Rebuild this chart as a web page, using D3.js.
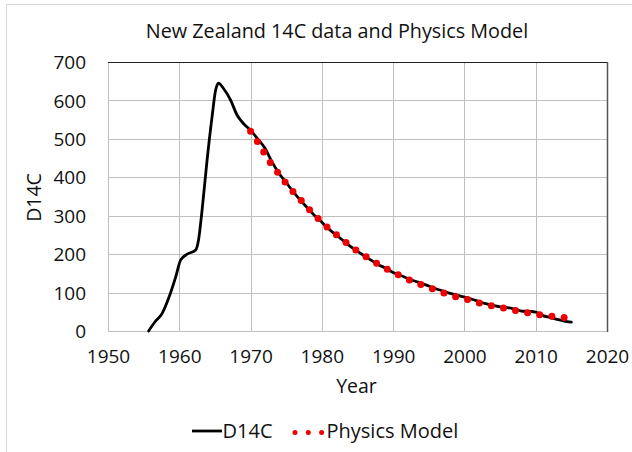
<!DOCTYPE html>
<html>
<head>
<meta charset="utf-8">
<script src="https://cdn.jsdelivr.net/npm/d3@7"></script>
<style>
  html, body { margin: 0; padding: 0; background: #fff; }
  svg { display: block; }
  text { font-family: "Open Sans", "Noto Sans", sans-serif; fill: #111; }
</style>
</head>
<body>
<svg id="chart" width="632" height="452"></svg>
<script>
// ---- data ----
const d14cYears = [1955.7, 1956.6, 1957.6, 1958.5, 1959.5, 1960.2, 1961.1, 1962.3, 1962.7, 1963.2, 1963.9, 1964.6, 1965.1, 1965.5, 1966.2, 1967.2, 1968.1, 1969, 1970, 1971, 1972, 1973, 1974, 1975, 1976, 1977, 1978, 1979, 1980, 1981, 1982, 1983, 1984, 1985, 1986, 1987, 1988, 1989, 1990, 1991, 1992, 1993, 1994, 1995, 1996, 1997, 1998, 1999, 2000, 2001, 2002, 2003, 2004, 2005, 2006, 2007, 2008, 2009, 2010, 2011, 2012, 2013, 2014, 2015];
const d14cValues = [0, 24, 46, 85, 141, 185, 200, 211, 237, 315, 445, 558, 627, 645, 631, 601, 562, 540, 522, 500, 476, 440, 410, 386, 362, 340, 320, 300, 283, 265, 250, 235, 220, 207, 195, 183, 172, 163, 152, 145, 137, 130, 124, 117, 110, 104, 98, 93, 88, 83, 77, 71, 67, 63, 61, 57, 52, 51, 49, 40, 35, 30, 26, 23];
const modelYears = [1970, 1971, 1972, 1973, 1974, 1975, 1976, 1977, 1978, 1979, 1980, 1981, 1982, 1983, 1984, 1985, 1986, 1987, 1988, 1989, 1990, 1991, 1992, 1993, 1994, 1995, 1996, 1997, 1998, 1999, 2000, 2001, 2002, 2003, 2004, 2005, 2006, 2007, 2008, 2009, 2010, 2011, 2012, 2013, 2014];
const modelValues = [520, 492, 461, 432, 408, 384, 362, 342, 321, 302, 283, 266, 251, 236, 222, 208, 196, 184, 173, 163, 152, 144, 135, 128, 120, 113, 107, 100, 94, 88, 84, 79, 73, 69, 65, 62, 58, 54, 51, 47, 44, 41, 39, 37, 35];
const xTicks = [1950, 1960, 1970, 1980, 1990, 2000, 2010, 2020];
const yTicks = [0, 100, 200, 300, 400, 500, 600, 700];
const seriesNames = ["D14C", "Physics Model"];
const titleText = "New Zealand 14C data and Physics Model";
const xTitle = "Year";
const yTitle = "D14C";

// ---- drawing ----
const svg = d3.select("#chart");
const L = 108, R = 607, T = 62, B = 331;
const x = d3.scaleLinear().domain([1950, 2020]).range([L, R]);
const y = d3.scaleLinear().domain([0, 700]).range([B, T]);

// chart outer border
svg.append("rect").attr("x", 6.5).attr("y", 4.5).attr("width", 700).attr("height", 600)
  .attr("fill", "#fff").attr("stroke", "#d9d9d9").attr("stroke-width", 1);

// gridlines
const g = svg.append("g");
g.selectAll(".vg").data(xTicks).join("line")
  .attr("x1", d => Math.round(x(d)) + 0.5).attr("x2", d => Math.round(x(d)) + 0.5)
  .attr("y1", T).attr("y2", B)
  .attr("stroke", "#bfbfbf").attr("stroke-width", 1);
g.selectAll(".hg").data(yTicks).join("line")
  .attr("y1", d => Math.round(y(d)) + 0.5).attr("y2", d => Math.round(y(d)) + 0.5)
  .attr("x1", L).attr("x2", R)
  .attr("stroke", "#bfbfbf").attr("stroke-width", 1);
// top / right border darker
svg.append("line").attr("x1", L).attr("x2", R + 1).attr("y1", T + 0.5).attr("y2", T + 0.5)
  .attr("stroke", "#222").attr("stroke-width", 1);
svg.append("line").attr("x1", Math.round(R) + 0.5).attr("x2", Math.round(R) + 0.5).attr("y1", T).attr("y2", B + 1)
  .attr("stroke", "#555").attr("stroke-width", 1.5);

// axes (labels only) via d3 axes
const xAxis = d3.axisBottom(x).tickValues(xTicks).tickFormat(d3.format("d")).tickSize(0).tickPadding(0);
const xg = svg.append("g").attr("transform", `translate(0,${B})`).call(xAxis);
xg.select(".domain").remove();
xg.selectAll("text").attr("font-size", 19).attr("dy", null).attr("y", 32)
  .style("font-family", "'Open Sans', sans-serif").attr("fill", "#111");

const yAxis = d3.axisLeft(y).tickValues(yTicks).tickSize(0).tickPadding(0);
const yg = svg.append("g").attr("transform", `translate(86,0)`).call(yAxis);
yg.select(".domain").remove();
yg.selectAll("text").attr("font-size", 19).attr("x", 0).attr("dy", "0.35em")
  .style("font-family", "'Open Sans', sans-serif").attr("fill", "#111");

// series
const lineGen = d3.line().x(d => x(d[0])).y(d => y(d[1])).curve(d3.curveMonotoneX);
const d14c = d14cYears.map((yr, i) => [yr, d14cValues[i]]);
const model = modelYears.map((yr, i) => [yr, modelValues[i]]);

svg.append("path").datum(d14c).attr("d", lineGen)
  .attr("fill", "none").attr("stroke", "#000").attr("stroke-width", 2.8)
  .attr("stroke-linejoin", "round").attr("stroke-linecap", "round");
svg.append("path").datum(model).attr("d", lineGen)
  .attr("fill", "none").attr("stroke", "#ee0000").attr("stroke-width", 7)
  .attr("stroke-dasharray", "0 12.3").attr("stroke-linecap", "round");

// titles
svg.append("text").attr("x", 337).attr("y", 38).attr("text-anchor", "middle")
  .attr("font-size", 19.8).text(titleText);
svg.append("text").attr("x", 356.5).attr("y", 393).attr("text-anchor", "middle")
  .attr("font-size", 19.5).text(xTitle);
svg.append("text").attr("transform", "translate(41,197.5) rotate(-90)").attr("text-anchor", "middle")
  .attr("font-size", 19.5).text(yTitle);

// legend
const lg = svg.append("g");
lg.append("line").attr("x1", 192).attr("x2", 222).attr("y1", 431).attr("y2", 431)
  .attr("stroke", "#000").attr("stroke-width", 2.8);
lg.append("text").attr("x", 222.5).attr("y", 437.5).attr("font-size", 20).text(seriesNames[0]);
lg.append("line").attr("x1", 295).attr("x2", 322).attr("y1", 432.5).attr("y2", 432.5)
  .attr("stroke", "#ee0000").attr("stroke-width", 5)
  .attr("stroke-dasharray", "0 13.3").attr("stroke-linecap", "round");
lg.append("text").attr("x", 326.5).attr("y", 437.5).attr("font-size", 20).text(seriesNames[1]);
</script>
</body>
</html>
